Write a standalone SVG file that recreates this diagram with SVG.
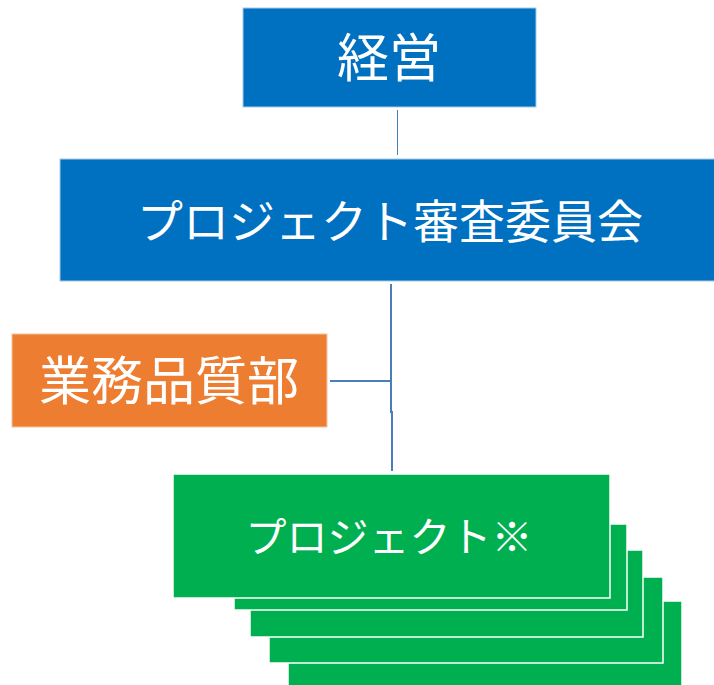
<svg xmlns="http://www.w3.org/2000/svg" width="714" height="685" viewBox="0 0 714 685">
<style>
.t{font-family:"Noto Sans CJK JP","Noto Sans CJK SC",sans-serif;fill:#fff;text-anchor:middle}
.blue{fill:#0070C0;stroke:#a9c9e8;stroke-width:1}
.orange{fill:#ED7D31;stroke:#f6c3a0;stroke-width:1}
.green{fill:#00B050;stroke:#fff;stroke-width:1.5}
.ln{stroke:#4A7EBB;fill:none}
</style>
<rect width="714" height="685" fill="#fff"/>
<g id="connectors">
<line class="ln" x1="397.5" y1="110" x2="397.5" y2="155" stroke-width="1" stroke="#7d9fcf"/>
<line class="ln" x1="391" y1="284" x2="391" y2="413" stroke-width="2"/>
<line class="ln" x1="392" y1="411" x2="392" y2="471" stroke-width="2"/>
<line class="ln" x1="330" y1="381" x2="391" y2="381" stroke-width="2"/>
</g>
<g id="keiei">
<rect class="blue" x="243" y="8" width="293" height="99"/>
<text class="t" x="389" y="77" font-size="52">経営</text>
</g>
<g id="shinsa">
<rect class="blue" x="60" y="159" width="660" height="122"/>
<text class="t" x="390" y="238" font-size="46">プロジェクト審査委員会</text>
</g>
<g id="gyomu">
<rect class="orange" x="12" y="334" width="315" height="93"/>
<text class="t" x="169" y="400" font-size="52">業務品質部</text>
</g>
<g id="projects">
<rect class="green" x="288" y="601" width="394" height="88"/>
<rect class="green" x="269" y="577" width="394" height="86"/>
<rect class="green" x="250" y="550" width="393" height="87"/>
<rect class="green" x="234" y="524" width="393" height="86"/>
<rect class="green" x="173" y="474" width="437" height="124"/>
<text class="t" x="389" y="552" font-size="41">プロジェクト※</text>
</g>
</svg>
